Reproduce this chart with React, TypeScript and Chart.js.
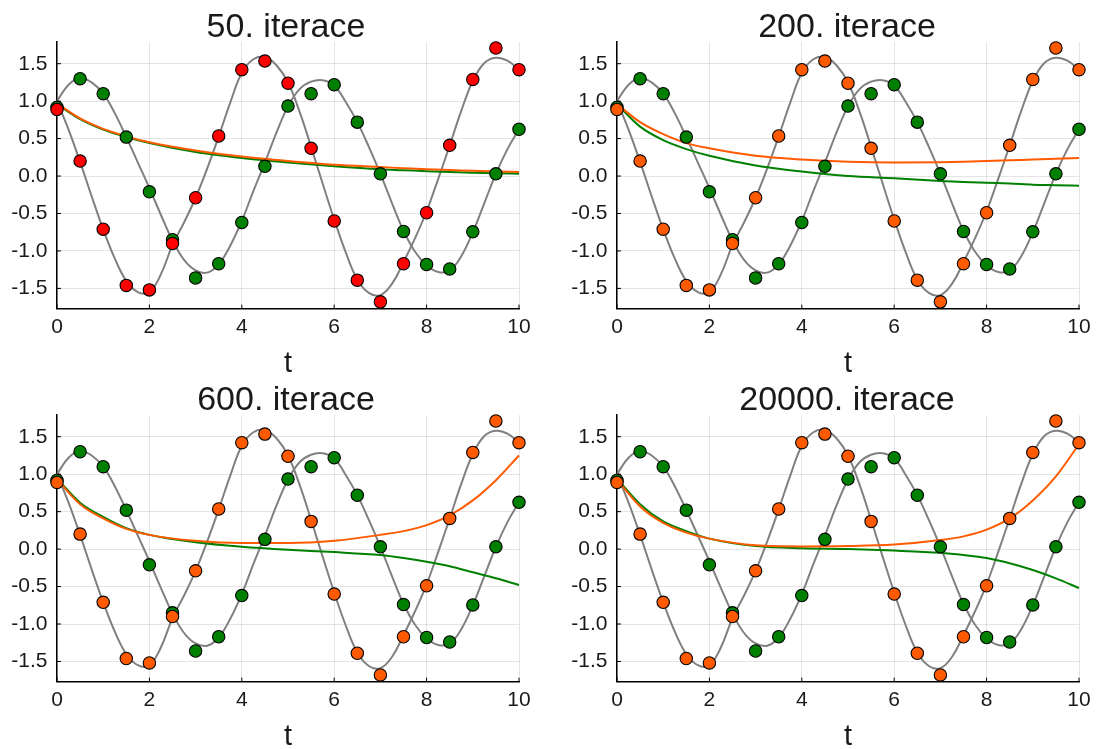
import React, { useEffect, useRef } from 'react';
import { Chart, registerables } from 'chart.js';

Chart.register(...registerables);

// ---------- data ----------
const TITLES = ['50. iterace', '200. iterace', '600. iterace', '20000. iterace'];
const X_LABEL = 't';
const X_TICKS = [0, 2, 4, 6, 8, 10];
const Y_TICKS = [-1.5, -1.0, -0.5, 0.0, 0.5, 1.0, 1.5];
const Y_MIN = -1.77;
const Y_MAX = 1.79;

// observations
const T_OBS = [0, 0.5, 1, 1.5, 2, 2.5, 3, 3.5, 4, 4.5, 5, 5.5, 6, 6.5, 7, 7.5, 8, 8.5, 9, 9.5, 10];
const OBS_X1 = [0.89, 0.2, -0.71, -1.46, -1.52, -0.9, -0.29, 0.535, 1.42, 1.535, 1.24, 0.37, -0.6, -1.39, -1.68, -1.17, -0.49, 0.41, 1.29, 1.71, 1.42];
const OBS_X2 = [0.92, 1.3, 1.1, 0.52, -0.21, -0.85, -1.36, -1.17, -0.62, 0.13, 0.935, 1.1, 1.22, 0.72, 0.03, -0.74, -1.18, -1.24, -0.745, 0.03, 0.625];

// true solution (gray)
const T_TRUE = [0, 0.25, 0.5, 0.75, 1, 1.25, 1.5, 1.75, 2, 2.25, 2.5, 2.75, 3, 3.25, 3.5, 3.75, 4, 4.25, 4.5, 4.75, 5, 5.25, 5.5, 5.75, 6, 6.25, 6.5, 6.75, 7, 7.25, 7.5, 7.75, 8, 8.25, 8.5, 8.75, 9, 9.25, 9.5, 9.75, 10];
const TRUE_X1 = [1.0, 0.62, 0.19, -0.27, -0.71, -1.1, -1.4, -1.55, -1.55, -1.31, -0.92, -0.62, -0.29, 0.1, 0.53, 0.98, 1.38, 1.56, 1.59, 1.48, 1.25, 0.86, 0.39, -0.1, -0.58, -1.02, -1.38, -1.56, -1.59, -1.44, -1.15, -0.83, -0.47, -0.04, 0.41, 0.87, 1.27, 1.51, 1.58, 1.54, 1.42];
const TRUE_X2 = [1.0, 1.22, 1.31, 1.25, 1.1, 0.84, 0.52, 0.18, -0.16, -0.52, -0.86, -1.12, -1.26, -1.29, -1.18, -0.93, -0.6, -0.2, 0.18, 0.58, 0.93, 1.16, 1.26, 1.28, 1.21, 0.99, 0.72, 0.39, 0.03, -0.36, -0.73, -1.01, -1.19, -1.28, -1.26, -1.07, -0.75, -0.36, 0.03, 0.36, 0.625];

// model predictions per panel
const T_MODEL = [0, 0.5, 1, 1.5, 2, 3, 4, 5, 6, 7, 7.5, 8, 8.5, 9, 9.5, 10];
const MODEL_X1_50 = [0.97, 0.77, 0.63, 0.53, 0.45, 0.34, 0.26, 0.2, 0.15, 0.12, 0.105, 0.09, 0.08, 0.07, 0.06, 0.055];
const MODEL_X2_50 = [0.96, 0.76, 0.62, 0.52, 0.44, 0.32, 0.24, 0.18, 0.13, 0.09, 0.078, 0.065, 0.055, 0.045, 0.037, 0.03];
const MODEL_X1_200 = [0.96, 0.72, 0.56, 0.44, 0.37, 0.27, 0.22, 0.19, 0.18, 0.185, 0.19, 0.2, 0.21, 0.22, 0.23, 0.24];
const MODEL_X2_200 = [0.96, 0.66, 0.48, 0.36, 0.27, 0.14, 0.06, 0.0, -0.03, -0.065, -0.078, -0.09, -0.1, -0.115, -0.122, -0.13];
const MODEL_X1_600 = [0.93, 0.6, 0.41, 0.27, 0.19, 0.11, 0.08, 0.08, 0.11, 0.19, 0.24, 0.32, 0.45, 0.65, 0.92, 1.25];
const MODEL_X2_600 = [0.94, 0.62, 0.43, 0.28, 0.19, 0.09, 0.03, -0.01, -0.04, -0.08, -0.12, -0.17, -0.23, -0.31, -0.39, -0.48];
const MODEL_X1_20000 = [0.93, 0.57, 0.35, 0.22, 0.14, 0.05, 0.035, 0.04, 0.06, 0.12, 0.17, 0.26, 0.41, 0.65, 0.97, 1.4];
const MODEL_X2_20000 = [0.94, 0.6, 0.37, 0.24, 0.14, 0.04, 0.01, 0.0, -0.02, -0.05, -0.08, -0.12, -0.19, -0.28, -0.39, -0.52];

const MODELS_X1 = [MODEL_X1_50, MODEL_X1_200, MODEL_X1_600, MODEL_X1_20000];
const MODELS_X2 = [MODEL_X2_50, MODEL_X2_200, MODEL_X2_600, MODEL_X2_20000];

// ---------- styles ----------
const RED = '#ff0000';
const ORANGE = '#ff5a00';
const GREEN = '#008000';
const GRAY = '#808080';
const FONT = "'Liberation Sans', Arial, Helvetica, sans-serif";
const TEXT = '#1a1a1a';

const pts = (xs: number[], ys: number[]) => xs.map((x, i) => ({ x, y: ys[i] }));

type PanelCfg = {
  idx: number;
  left: number;
  top: number;
  w: number;
  h: number;
  padTop: number;
  yAxisW: number;
  padRight: number;
  xAxisH: number;
  titleX: number;
};

const PANELS: PanelCfg[] = [
  { idx: 0, left: 0, top: 0, w: 550, h: 374, padTop: 42, yAxisW: 57, padRight: 31, xAxisH: 65.4, titleX: 286 },
  { idx: 1, left: 550, top: 0, w: 551, h: 374, padTop: 42, yAxisW: 67, padRight: 22, xAxisH: 65.4, titleX: 297 },
  { idx: 2, left: 0, top: 374, w: 550, h: 375, padTop: 41, yAxisW: 57, padRight: 31, xAxisH: 67.3, titleX: 286 },
  { idx: 3, left: 550, top: 374, w: 551, h: 375, padTop: 41, yAxisW: 67, padRight: 22, xAxisH: 67.3, titleX: 297 },
];

function Panel({ cfg }: { cfg: PanelCfg }) {
  const ref = useRef<HTMLCanvasElement | null>(null);
  useEffect(() => {
    const canvas = ref.current;
    if (!canvas) return;
    const pointColor = cfg.idx === 0 ? RED : ORANGE;
    const title = TITLES[cfg.idx];

    const decor = {
      id: 'decor',
      afterDraw(chart: any) {
        const { ctx, chartArea } = chart;
        const xs = chart.scales.x;
        const ys = chart.scales.y;
        ctx.save();
        // inward tick marks
        ctx.strokeStyle = '#000';
        ctx.lineWidth = 1;
        ctx.beginPath();
        X_TICKS.forEach((v) => {
          const px = xs.getPixelForValue(v);
          ctx.moveTo(px, chartArea.bottom);
          ctx.lineTo(px, chartArea.bottom - 4);
        });
        Y_TICKS.forEach((v) => {
          const py = ys.getPixelForValue(v);
          ctx.moveTo(chartArea.left, py);
          ctx.lineTo(chartArea.left + 4, py);
        });
        ctx.stroke();
        // title
        ctx.fillStyle = TEXT;
        ctx.textAlign = 'center';
        ctx.textBaseline = 'alphabetic';
        ctx.font = `34px ${FONT}`;
        ctx.fillText(title, cfg.titleX, chartArea.top - 5);
        // x label
        ctx.font = `29px ${FONT}`;
        ctx.fillText(X_LABEL, (chartArea.left + chartArea.right) / 2, chartArea.bottom + 63.4);
        ctx.restore();
      },
    };

    const chart = new Chart(canvas, {
      type: 'line',
      data: {
        datasets: [
          {
            data: pts(T_OBS, OBS_X1),
            showLine: false,
            pointRadius: 6.2,
            pointBackgroundColor: pointColor,
            pointBorderColor: '#000',
            pointBorderWidth: 1.1,
            backgroundColor: pointColor,
            borderColor: '#000',
            clip: false,
            order: 0,
          },
          {
            data: pts(T_OBS, OBS_X2),
            showLine: false,
            pointRadius: 6.2,
            pointBackgroundColor: GREEN,
            pointBorderColor: '#000',
            pointBorderWidth: 1.1,
            backgroundColor: GREEN,
            borderColor: '#000',
            clip: false,
            order: 1,
          },
          {
            data: pts(T_MODEL, MODELS_X1[cfg.idx]),
            borderColor: ORANGE,
            borderWidth: 2,
            pointRadius: 0,
            cubicInterpolationMode: 'monotone',
            clip: false,
            order: 2,
          },
          {
            data: pts(T_MODEL, MODELS_X2[cfg.idx]),
            borderColor: GREEN,
            borderWidth: 2,
            pointRadius: 0,
            cubicInterpolationMode: 'monotone',
            clip: false,
            order: 3,
          },
          {
            data: pts(T_TRUE, TRUE_X1),
            borderColor: GRAY,
            borderWidth: 2,
            pointRadius: 0,
            tension: 0.4,
            clip: false,
            order: 4,
          },
          {
            data: pts(T_TRUE, TRUE_X2),
            borderColor: GRAY,
            borderWidth: 2,
            pointRadius: 0,
            tension: 0.4,
            clip: false,
            order: 5,
          },
        ] as any,
      },
      options: {
        animation: false,
        responsive: false,
        maintainAspectRatio: false,
        events: [],
        layout: { padding: { top: cfg.padTop, right: cfg.padRight, left: 0, bottom: 0 } },
        plugins: { legend: { display: false }, tooltip: { enabled: false }, title: { display: false } },
        scales: {
          x: {
            type: 'linear',
            min: 0,
            max: 10,
            afterBuildTicks: (s: any) => {
              s.ticks = X_TICKS.map((v) => ({ value: v }));
            },
            afterFit: (s: any) => {
              s.height = cfg.xAxisH;
            },
            ticks: {
              autoSkip: false,
              maxRotation: 0,
              padding: 6,
              color: TEXT,
              font: { family: FONT, size: 21 },
              callback: (v: any) => String(v),
            },
            grid: { color: 'rgba(0,0,0,0.1)', lineWidth: 1, drawTicks: false },
            border: { display: true, color: '#000', width: 1.5 },
          },
          y: {
            type: 'linear',
            min: Y_MIN,
            max: Y_MAX,
            afterBuildTicks: (s: any) => {
              s.ticks = Y_TICKS.map((v) => ({ value: v }));
            },
            afterFit: (s: any) => {
              s.width = cfg.yAxisW;
            },
            ticks: {
              autoSkip: false,
              padding: 9.5,
              color: TEXT,
              font: { family: FONT, size: 21 },
              callback: (v: any) => Number(v).toFixed(1),
            },
            grid: { color: 'rgba(0,0,0,0.1)', lineWidth: 1, drawTicks: false },
            border: { display: true, color: '#000', width: 1.5 },
          },
        },
      } as any,
      plugins: [decor],
    });
    return () => chart.destroy();
  }, [cfg]);

  return (
    <canvas
      ref={ref}
      width={cfg.w}
      height={cfg.h}
      style={{ position: 'absolute', left: cfg.left, top: cfg.top, width: cfg.w, height: cfg.h }}
    />
  );
}

export default function App() {
  return (
    <div style={{ position: 'absolute', left: 0, top: 0, width: 1101, height: 749, background: '#fff', overflow: 'hidden' }}>
      {PANELS.map((p) => (
        <Panel key={p.idx} cfg={p} />
      ))}
    </div>
  );
}
